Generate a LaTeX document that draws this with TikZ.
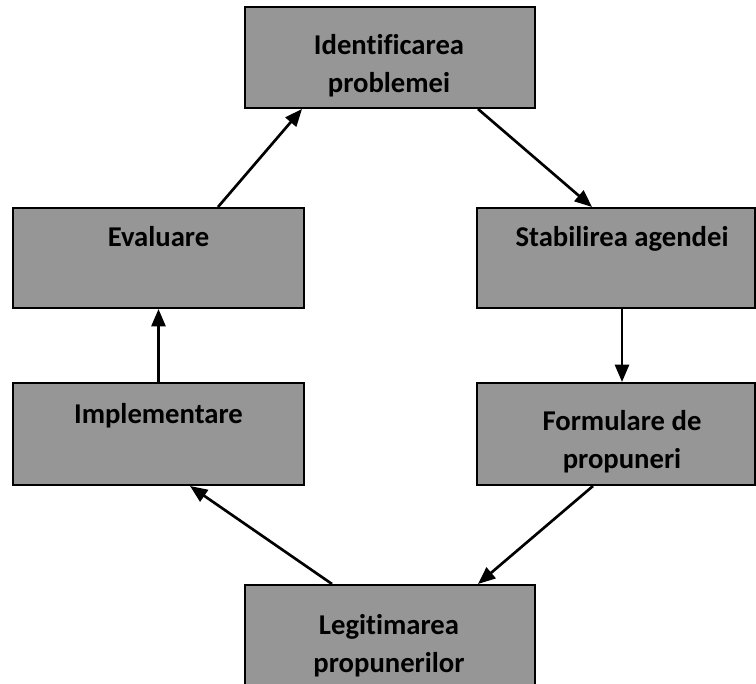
\documentclass[tikz,border=0pt]{standalone}
\usepackage{fontspec}
\setmainfont{Carlito}[Ligatures=NoCommon]
\usetikzlibrary{arrows.meta,calc}
\definecolor{boxgray}{RGB}{150,150,150}
\tikzset{every picture/.style={line width=0.75pt}}

\begin{document}
\begin{tikzpicture}[x=0.75pt,y=0.75pt,yscale=-1,xscale=1,
  stage/.style={draw=black, line width=1.5pt, fill=boxgray, inner sep=0pt, minimum height=75.75pt},
  stagetext/.style={anchor=base, inner sep=0pt, align=center, font=\fontsize{21.5}{28.5}\selectfont\bfseries},
  flow/.style={-{Triangle[length=13pt,width=10.5pt]}, line width=2pt}]
  \clip (0,0) rectangle (756,684);
  \useasboundingbox (0,0) rectangle (756,684);

  %Boxes
  \node[stage, minimum width=217.5pt] (problem) at (390,57.5) {};
  \node[stage, minimum width=218.25pt, minimum height=75pt] (eval) at (158.5,258) {};
  \node[stage, minimum width=208.5pt, minimum height=75pt] (agenda) at (616,258) {};
  \node[stage, minimum width=218.25pt, minimum height=76.5pt] (impl) at (158.5,434) {};
  \node[stage, minimum width=208.5pt, minimum height=76.5pt] (form) at (616,434) {};
  \node[stage, minimum width=217.5pt, minimum height=78pt] (legit) at (390,637) {};

  % Text Nodes (base = last line)
  \node[stagetext] (problem-t) at (389,93) {Identificarea\\problemei};
  \node[stagetext] (eval-t) at (158.5,247) {Evaluare};
  \node[stagetext] (agenda-t) at (622,247) {Stabilirea agendei};
  \node[stagetext] (impl-t) at (158.5,423) {Implementare};
  \node[stagetext] (form-t) at (622,468) {Formulare de\\propuneri};
  \node[stagetext] (legit-t) at (389,672) {Legitimarea\\propunerilor};

  %Arrows
  \draw[flow] ($(eval.north)+(59.5,0)$) -- ($(problem.south)+(-88,0)$);
  \draw[flow] ($(problem.south)+(88,0)$) -- ($(agenda.north)+(-24,0)$);
  \draw[flow] ($(agenda.south)+(6,0)$) -- ($(form.north)+(6,0)$);
  \draw[flow] ($(form.south)+(-23,0)$) -- ($(legit.north)+(88,0)$);
  \draw[flow] ($(legit.north)+(-58,0)$) -- ($(impl.south)+(31.5,0)$);
  \draw[flow] (impl.north) -- (eval.south);
\end{tikzpicture}
\end{document}
